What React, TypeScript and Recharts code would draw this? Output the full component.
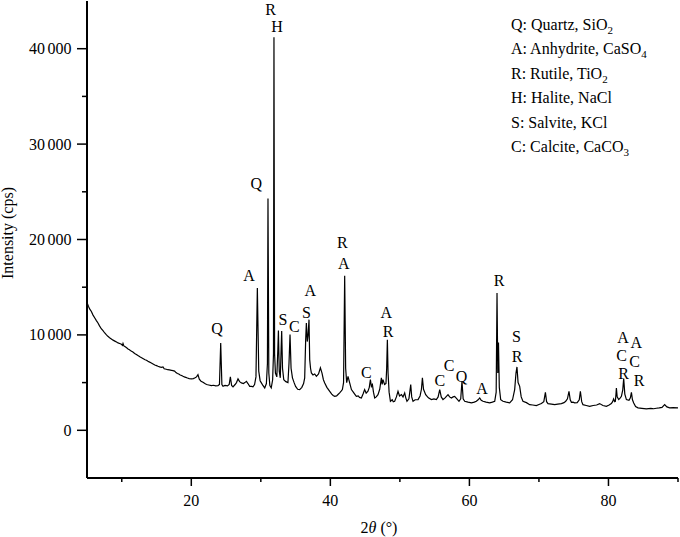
import React from 'react';
import { ComposedChart, Line, Scatter, XAxis, YAxis } from 'recharts';

// 2θ (°) and intensity (cps) pairs
const pattern: [number, number][] = [
  [5.0, 13400], [5.2, 13000], [5.4, 12700], [5.63, 12450], [5.85, 12100], [6.1, 11800], [6.35, 11500], [6.58, 11250],
  [6.8, 10950], [7.05, 10650], [7.3, 10450], [7.55, 10200], [7.8, 10000], [8.0, 9850], [8.25, 9700], [8.5, 9580],
  [8.75, 9450], [9.0, 9350], [9.25, 9250], [9.46, 9160], [9.7, 9100], [9.95, 9020], [10.1, 8900], [10.18, 9100],
  [10.3, 8850], [10.5, 8750], [10.7, 8650], [10.9, 8530], [11.1, 8450], [11.35, 8300], [11.6, 8200], [11.85, 8050],
  [12.1, 7950], [12.33, 7830], [12.6, 7700], [12.85, 7600], [13.1, 7500], [13.35, 7400], [13.55, 7350], [13.77, 7230],
  [14.0, 7150], [14.25, 7050], [14.5, 6950], [14.75, 6850], [15.0, 6780], [15.21, 6710], [15.45, 6650], [15.7, 6600],
  [15.93, 6650], [16.1, 6450], [16.4, 6400], [16.6, 6350], [16.85, 6330], [17.14, 6290], [17.35, 6250], [17.6, 6200],
  [17.8, 6050], [18.0, 5950], [18.2, 5900], [18.4, 5800], [18.6, 5750], [18.81, 5660], [19.0, 5600], [19.2, 5550],
  [19.45, 5480], [19.7, 5420], [20.02, 5390], [20.3, 5420], [20.55, 5500], [20.75, 5600], [20.96, 5840], [21.15, 5350],
  [21.4, 5150], [21.68, 5030], [21.95, 4900], [22.2, 4800], [22.5, 4750], [22.89, 4690], [23.2, 4720], [23.5, 4650],
  [23.84, 4690], [24.05, 4800], [24.23, 9160], [24.4, 4800], [24.56, 4610], [24.85, 4700], [25.2, 4650], [25.45, 4800],
  [25.62, 5600], [25.8, 4700], [26.0, 4550], [26.3, 4800], [26.5, 5000], [26.72, 5390], [26.95, 5100], [27.21, 4970],
  [27.5, 4900], [27.7, 5000], [27.93, 5130], [28.15, 4900], [28.4, 4610], [28.65, 4600], [28.87, 4550], [29.1, 4800],
  [29.3, 5600], [29.5, 14920], [29.7, 6200], [29.9, 5200], [30.08, 4970], [30.3, 4700], [30.56, 4440], [30.8, 4900],
  [30.95, 7000], [31.03, 24290], [31.15, 6000], [31.3, 4700], [31.5, 4450], [31.7, 5300], [31.82, 8000], [31.89, 41190],
  [31.98, 8000], [32.1, 6000], [32.3, 5600], [32.45, 8500], [32.53, 10450], [32.65, 6200], [32.8, 5500], [32.92, 8500],
  [33.0, 10400], [33.12, 6500], [33.3, 5300], [33.6, 5100], [33.9, 5000], [34.05, 7000], [34.2, 10030], [34.35, 6500],
  [34.55, 5500], [34.8, 4970], [35.0, 4600], [35.3, 4300], [35.59, 4270], [35.9, 4500], [36.15, 4900], [36.31, 5500],
  [36.45, 9500], [36.55, 11250], [36.68, 9300], [36.8, 10000], [36.93, 11600], [37.03, 7410], [37.15, 6500], [37.27, 6010],
  [37.5, 5800], [37.75, 5900], [37.99, 5660], [38.3, 5900], [38.57, 6540], [38.8, 6000], [39.0, 5300], [39.19, 4970],
  [39.5, 4500], [39.91, 4090], [40.2, 3800], [40.4, 3650], [40.63, 3560], [40.9, 3600], [41.1, 3750], [41.34, 3920],
  [41.55, 4100], [41.73, 4270], [41.9, 5000], [42.06, 16210], [42.2, 6500], [42.35, 5000], [42.54, 5660], [42.78, 4970],
  [43.03, 4270], [43.3, 4000], [43.5, 3800], [43.74, 3560], [44.0, 3600], [44.2, 3450], [44.46, 3390], [44.7, 3800],
  [44.93, 4270], [45.15, 3900], [45.41, 4090], [45.6, 4500], [45.76, 5310], [45.9, 4600], [46.05, 4790], [46.2, 4000],
  [46.38, 3390], [46.6, 3500], [46.85, 3740], [47.1, 4300], [47.34, 5490], [47.45, 4800], [47.57, 5310], [47.8, 4790],
  [48.0, 4900], [48.1, 6500], [48.2, 9500], [48.3, 6000], [48.45, 4000], [48.64, 3040], [48.9, 3200], [49.05, 3000],
  [49.25, 3040], [49.5, 3500], [49.73, 4090], [49.95, 3600], [50.22, 3740], [50.45, 3500], [50.69, 3920], [50.85, 3400],
  [51.02, 3040], [51.3, 3300], [51.56, 4790], [51.7, 3500], [51.89, 3040], [52.2, 3200], [52.61, 3220], [52.9, 3600],
  [53.1, 4300], [53.24, 5490], [53.4, 4300], [53.71, 3740], [54.1, 3400], [54.53, 3220], [54.9, 3300], [55.25, 3220],
  [55.5, 3500], [55.73, 4270], [55.95, 3500], [56.2, 3220], [56.5, 3400], [56.92, 3740], [57.15, 3500], [57.41, 3390],
  [57.65, 3500], [57.88, 3560], [58.2, 3300], [58.5, 3040], [58.75, 3300], [58.93, 5140], [59.1, 3300], [59.32, 3040],
  [59.8, 2950], [60.29, 2870], [60.7, 2950], [61.0, 3040], [61.25, 3200], [61.48, 3390], [61.7, 3150], [61.95, 3040],
  [62.4, 2950], [62.92, 2870], [63.3, 2950], [63.64, 3040], [63.85, 4000], [63.97, 14400], [64.08, 6000], [64.18, 9200],
  [64.3, 4500], [64.5, 3200], [64.83, 3040], [65.3, 2950], [65.79, 2870], [66.2, 3200], [66.51, 4270], [66.7, 6000],
  [66.84, 6640], [67.0, 5000], [67.23, 4610], [67.45, 3500], [67.7, 3040], [68.2, 2900], [68.67, 2690], [69.1, 2650],
  [69.63, 2590], [70.0, 2700], [70.35, 2800], [70.7, 3000], [70.93, 3980], [71.1, 3000], [71.3, 2800], [71.8, 2750],
  [72.26, 2690], [72.7, 2750], [73.23, 2800], [73.6, 2900], [73.85, 3040], [74.1, 3300], [74.32, 4090], [74.5, 3200],
  [74.67, 2930], [74.9, 2950], [75.14, 2870], [75.5, 2900], [75.8, 3200], [75.96, 4090], [76.15, 3000], [76.33, 2690],
  [76.8, 2600], [77.3, 2510], [77.8, 2600], [78.3, 2650], [78.73, 2800], [79.2, 2600], [79.7, 2510], [80.1, 2650],
  [80.41, 2800], [80.6, 3000], [80.74, 3290], [80.9, 3000], [80.99, 3040], [81.08, 3800], [81.14, 4440], [81.25, 3500],
  [81.47, 3220], [81.7, 3400], [81.86, 3560], [82.05, 4200], [82.19, 5420], [82.35, 3800], [82.58, 3220], [82.95, 3140],
  [83.15, 3400], [83.3, 3980], [83.45, 3200], [83.63, 2870], [83.9, 2500], [84.25, 2350], [84.8, 2300], [85.45, 2240],
  [86.1, 2300], [86.5, 2260], [86.89, 2310], [87.3, 2350], [87.7, 2400], [88.08, 2690], [88.4, 2450], [88.8, 2350],
  [89.3, 2380], [90.0, 2350],
];

// Phase letters placed above the peaks (2θ, intensity of the letter centre)
const peakLabels = [
  { x: 23.7, y: 10660, t: 'Q' },
  { x: 28.3, y: 16210, t: 'A' },
  { x: 29.36, y: 25850, t: 'Q' },
  { x: 31.42, y: 44150, t: 'R' },
  { x: 32.33, y: 42300, t: 'H' },
  { x: 33.19, y: 11600, t: 'S' },
  { x: 34.83, y: 10830, t: 'C' },
  { x: 36.55, y: 12370, t: 'S' },
  { x: 37.13, y: 14670, t: 'A' },
  { x: 41.73, y: 19700, t: 'R' },
  { x: 41.92, y: 17440, t: 'A' },
  { x: 45.18, y: 6080, t: 'C' },
  { x: 48.06, y: 12300, t: 'A' },
  { x: 48.29, y: 10380, t: 'R' },
  { x: 55.73, y: 5240, t: 'C' },
  { x: 57.06, y: 6780, t: 'C' },
  { x: 58.85, y: 5660, t: 'Q' },
  { x: 61.81, y: 4340, t: 'A' },
  { x: 64.25, y: 15720, t: 'R' },
  { x: 66.76, y: 9790, t: 'S' },
  { x: 66.84, y: 7760, t: 'R' },
  { x: 82.09, y: 9700, t: 'A' },
  { x: 81.9, y: 7830, t: 'C' },
  { x: 82.19, y: 5940, t: 'R' },
  { x: 84.0, y: 9150, t: 'A' },
  { x: 83.77, y: 7250, t: 'C' },
  { x: 84.39, y: 5210, t: 'R' },
];

// Legend entries: [label text, formula base, subscript]
const legendEntries: [string, string, string][] = [
  ['Q: Quartz, ', 'SiO', '2'],
  ['A: Anhydrite, ', 'CaSO', '4'],
  ['R: Rutile, ', 'TiO', '2'],
  ['H: Halite, NaCl', '', ''],
  ['S: Salvite, KCl', '', ''],
  ['C: Calcite, ', 'CaCO', '3'],
];

const xMajorTicks = [20, 40, 60, 80];
const xMinorTicks = [10, 30, 50, 70, 90];
const yMajorTicks = [0, 10000, 20000, 30000, 40000];
const yMinorTicks = [5000, 15000, 25000, 35000];

const data = pattern.map(([x, y]) => ({ x, y }));

const FONT = "'Liberation Serif', 'Times New Roman', Times, serif";
const textStyle: React.CSSProperties = { fontFamily: FONT, fontSize: 16 };

const XTick = (props: any) => {
  const { x, y, payload } = props;
  const major = xMajorTicks.includes(payload.value);
  return (
    <g>
      <line x1={x} x2={x} y1={y} y2={y + (major ? 8 : 4)} stroke="#000" strokeWidth={1.5} />
      {major && (
        <text x={x} y={y + 28} textAnchor="middle" style={textStyle} fill="#000">
          {payload.value}
        </text>
      )}
    </g>
  );
};

const YTick = (props: any) => {
  const { x, y, payload } = props;
  const v: number = payload.value;
  const major = yMajorTicks.includes(v);
  return (
    <g>
      <line x1={x - (major ? 10 : 5)} x2={x} y1={y} y2={y} stroke="#000" strokeWidth={1.5} />
      {major && (
        <text x={x - 15.5} y={y + 5.5} textAnchor="end" style={textStyle} fill="#000">
          {v === 0 ? (
            '0'
          ) : (
            <>
              {String(Math.floor(v / 1000))}
              <tspan dx={2.5}>000</tspan>
            </>
          )}
        </text>
      )}
    </g>
  );
};

const PeakLetter = (props: any) => {
  const { cx, cy, payload } = props;
  return (
    <text x={cx} y={cy} dy="0.34em" textAnchor="middle" style={textStyle} fill="#000">
      {payload.t}
    </text>
  );
};

export default function App() {
  return (
    <div
      style={{
        position: 'absolute',
        left: 0,
        top: 0,
        width: 680,
        height: 537,
        background: '#fff',
        fontFamily: FONT,
      }}
    >
      <ComposedChart
        width={680}
        height={537}
        data={data}
        margin={{ top: 1, right: 2, bottom: 0, left: 0 }}
      >
        <XAxis
          dataKey="x"
          type="number"
          domain={[5, 90]}
          ticks={[...xMinorTicks, ...xMajorTicks].sort((a, b) => a - b)}
          interval={0}
          tickSize={0}
          tickMargin={0}
          tickLine={false}
          tick={<XTick />}
          axisLine={{ stroke: '#000', strokeWidth: 2 }}
          height={59}
          allowDataOverflow
        />
        <YAxis
          type="number"
          domain={[-5000, 45000]}
          ticks={[...yMinorTicks, ...yMajorTicks].sort((a, b) => a - b)}
          interval={0}
          tickSize={0}
          tickMargin={0}
          tickLine={false}
          tick={<YTick />}
          axisLine={{ stroke: '#000', strokeWidth: 2 }}
          width={87}
          allowDataOverflow
        />
        <Line
          dataKey="y"
          type="linear"
          stroke="#000"
          strokeWidth={1.2}
          dot={false}
          activeDot={false}
          isAnimationActive={false}
        />
        <Scatter data={peakLabels} dataKey="y" shape={<PeakLetter />} isAnimationActive={false} />
      </ComposedChart>
      <svg
        width={680}
        height={537}
        style={{ position: 'absolute', left: 0, top: 0, pointerEvents: 'none' }}
      >
        <text transform="translate(13, 233) rotate(-90)" textAnchor="middle" style={textStyle} fill="#000">
          Intensity (cps)
        </text>
        <text x={379} y={533} textAnchor="middle" style={textStyle} fill="#000">
          2<tspan fontStyle="italic">θ</tspan> (°)
        </text>
        {legendEntries.map(([label, base, sub], i) => (
          <text key={label} x={511} y={29.5 + i * 24.5} style={textStyle} fill="#000">
            {label}
            {base}
            {sub && (
              <tspan fontSize={11} dy={4}>
                {sub}
              </tspan>
            )}
          </text>
        ))}
      </svg>
    </div>
  );
}
